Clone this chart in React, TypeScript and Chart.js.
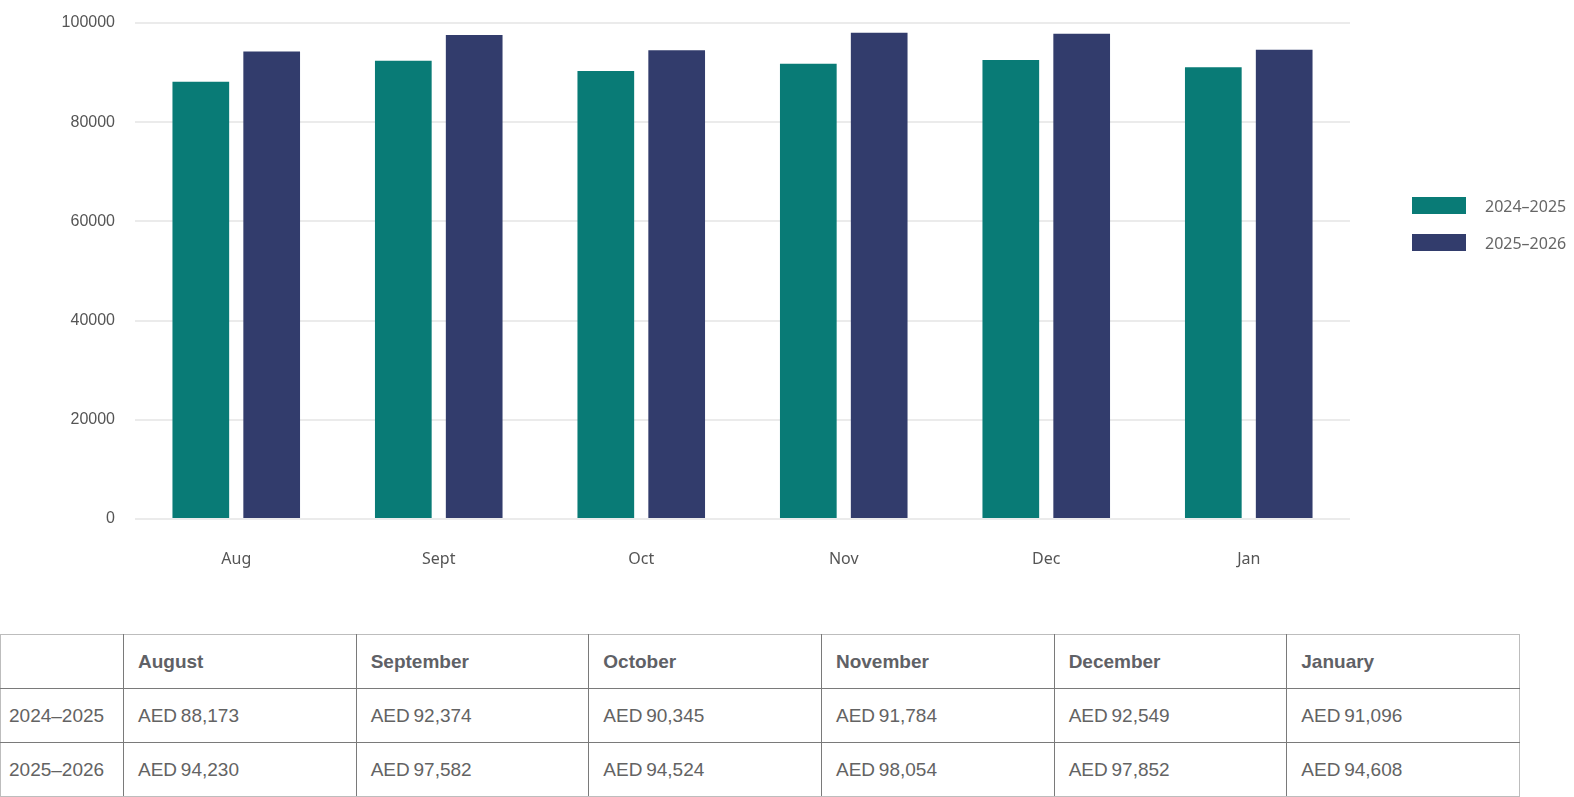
import React, { useEffect, useRef } from "react";
import { Chart, registerables } from "chart.js";

Chart.register(...registerables);

const categories = ["Aug", "Sept", "Oct", "Nov", "Dec", "Jan"];
const monthNames = ["August", "September", "October", "November", "December", "January"];
const seriesLabels = ["2024–2025", "2025–2026"];
const values2425 = [88173, 92374, 90345, 91784, 92549, 91096];
const values2526 = [94230, 97582, 94524, 98054, 97852, 94608];
const colors = ["#097b76", "#323c6c"];

const fmt = (v: number) => "AED\u2009" + v.toLocaleString("en-US");

export default function App() {
  const ref = useRef<HTMLCanvasElement | null>(null);

  useEffect(() => {
    document.body.style.margin = "0";
    if (!ref.current) return;
    const chart = new Chart(ref.current, {
      type: "bar",
      data: {
        labels: categories,
        datasets: [
          { label: seriesLabels[0], data: values2425, backgroundColor: colors[0] },
          { label: seriesLabels[1], data: values2526, backgroundColor: colors[1] },
        ],
      },
      options: {
        animation: false,
        responsive: false,
        maintainAspectRatio: false,
        layout: { padding: { top: 23, right: 224, left: 0, bottom: 0 } },
        datasets: { bar: { categoryPercentage: 0.7, barPercentage: 0.8 } },
        plugins: { legend: { display: false }, tooltip: { enabled: false } },
        scales: {
          x: {
            grid: { display: false },
            border: { display: false },
            ticks: {
              padding: 23,
              color: "#555",
              font: { family: "'Noto Sans'", size: 16 },
            },
            afterFit: (s: any) => {
              s.height = 81;
            },
          },
          y: {
            min: 0,
            max: 100000,
            grid: { color: "#ebebeb", lineWidth: 2, drawTicks: false },
            border: { display: false },
            ticks: {
              stepSize: 20000,
              padding: 20,
              color: "#555",
              font: { family: "'Liberation Sans'", size: 16 },
              callback: (v: any) => String(v),
            },
            afterFit: (s: any) => {
              s.width = 135;
              s.paddingTop = 0;
              s.paddingBottom = 0;
            },
          },
        },
      },
    });
    return () => chart.destroy();
  }, []);

  const cellBase: React.CSSProperties = {
    borderRight: "1px solid #7a7a7a",
    borderBottom: "1px solid #7a7a7a",
    height: 54,
    padding: "0 0 0 14px",
    textAlign: "left",
    verticalAlign: "middle",
    color: "#636363",
    fontSize: 19,
    fontFamily: "'Liberation Sans', Arial, sans-serif",
    boxSizing: "border-box",
  };

  return (
    <div style={{ position: "relative", width: 1574, height: 797, fontFamily: "'Liberation Sans', sans-serif" }}>
      <canvas ref={ref} width={1574} height={600} style={{ position: "absolute", left: 0, top: 0, width: 1574, height: 600 }} />
      {seriesLabels.map((l, i) => (
        <div key={l} style={{ position: "absolute", left: 1412, top: 197 + i * 37, height: 17, display: "flex", alignItems: "center" }}>
          <span style={{ display: "inline-block", width: 54, height: 17, background: colors[i] }} />
          <span style={{ marginLeft: 19, fontFamily: "'Noto Sans'", fontSize: 16, color: "#666", whiteSpace: "nowrap" }}>{l}</span>
        </div>
      ))}
      <table
        style={{
          position: "absolute",
          left: 0,
          top: 634,
          width: 1520,
          borderCollapse: "collapse",
          tableLayout: "fixed",
          borderTop: "1px solid #bdbdbd",
          borderLeft: "1px solid #bdbdbd",
        }}
      >
        <colgroup>
          <col style={{ width: 123 }} />
          {monthNames.map((m) => (
            <col key={m} />
          ))}
        </colgroup>
        <thead>
          <tr>
            <th style={{ ...cellBase }} />
            {monthNames.map((m, i) => (
              <th key={m} style={{ ...cellBase, fontWeight: 700, color: "#5f6166", borderRight: i === 5 ? "1px solid #bdbdbd" : cellBase.borderRight }}>
                {m}
              </th>
            ))}
          </tr>
        </thead>
        <tbody>
          {[values2425, values2526].map((vals, r) => (
            <tr key={r}>
              <td style={{ ...cellBase, padding: "0 0 0 8px", borderBottom: r === 1 ? "1px solid #bdbdbd" : cellBase.borderBottom }}>{seriesLabels[r]}</td>
              {vals.map((v, i) => (
                <td
                  key={i}
                  style={{
                    ...cellBase,
                    borderRight: i === 5 ? "1px solid #bdbdbd" : cellBase.borderRight,
                    borderBottom: r === 1 ? "1px solid #bdbdbd" : cellBase.borderBottom,
                  }}
                >
                  {fmt(v)}
                </td>
              ))}
            </tr>
          ))}
        </tbody>
      </table>
    </div>
  );
}
